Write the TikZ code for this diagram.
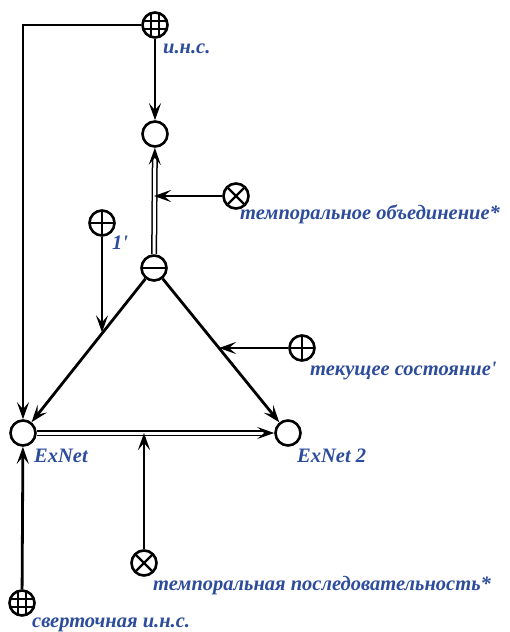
\documentclass[tikz,border=0pt]{standalone}
\usepackage{fontspec}
\setmainfont{Liberation Serif}
\usetikzlibrary{arrows.meta, calc, positioning}
\definecolor{LblBlue}{HTML}{2D4C9C}
\tikzset{
  sym/.style={
    circle, draw, fill=white, line width=2.6pt,
    minimum size=25pt, inner sep=0pt,
  },
  plainc/.style={sym},
  minusc/.style={sym, path picture={
      \draw[line width=2.4pt] (path picture bounding box.west) -- (path picture bounding box.east);}},
  plusc/.style={sym, path picture={
      \draw[line width=2.4pt] (path picture bounding box.west) -- (path picture bounding box.east)
        (path picture bounding box.north) -- (path picture bounding box.south);}},
  timesc/.style={sym, path picture={
      \draw[line width=2.4pt] (path picture bounding box.north west) -- (path picture bounding box.south east)
        (path picture bounding box.north east) -- (path picture bounding box.south west);}},
  gridc/.style={sym, path picture={
      \foreach \d in {-4,4}{
        \draw[line width=1.4pt] ([xshift=\d pt]path picture bounding box.north) -- ([xshift=\d pt]path picture bounding box.south);
        \draw[line width=1.4pt] ([yshift=\d pt]path picture bounding box.west) -- ([yshift=\d pt]path picture bounding box.east);}}},
  arr/.style={
    -{Stealth[length=17pt,width=12pt,inset=7pt]},
    line width=2.8pt,
  },
  dbl/.style={
    -{Stealth[length=17pt,width=12pt,inset=7pt]},
    double=white, double distance=3pt, line width=1.5pt,
  },
  lbl/.style={
    font=\fontsize{20.5}{23}\selectfont\bfseries\itshape, text=LblBlue,
    anchor=west, inner sep=0pt,
  },
}

\begin{document}
\begin{tikzpicture}[x=1pt,y=-1pt]
  \useasboundingbox (0,0) rectangle (509,632);
  % circles
  \node[gridc]  (gtop)   at (155,25)  {};
  \node[plainc] (ins)    at (155,134) {};
  \node[minusc] (mns)    at (154,268) {};
  \node[timesc] (tunion) at (236,196) {};
  \node[plusc]  (one)    at (102,223) {};
  \node[plainc] (exnet)  at (23,433)  {};
  \node[plainc] (exnet2) at (288,433) {};
  \node[plusc]  (cur)    at (302,348) {};
  \node[timesc] (tseq)   at (144,563) {};
  \node[gridc]  (gbot)   at (22,603)  {};
  % points on the triangle edges
  \coordinate (eleft)  at ($(mns)!0.39!(exnet)$);
  \coordinate (eright) at ($(mns)!0.485!(exnet2)$);
  % connectors
  \draw[arr] (gtop) -| (exnet);
  \draw[arr] (gtop) -- (ins);
  \draw[dbl] (mns) -- (ins);
  \draw[arr] (tunion) -- (tunion -| mns);
  \draw[arr] (mns) -- (exnet);
  \draw[arr] (mns) -- (exnet2);
  \draw[arr] (one) -- (one |- eleft);
  \draw[arr] (cur) -- (cur -| eright);
  \draw[dbl] (exnet) -- (exnet2);
  \draw[arr] (tseq) -- (tseq |- exnet);
  \draw[arr] (gbot) -- (exnet);
  % labels
  \node[lbl] (lins)   at (163,49)  {и.н.с.};
  \node[lbl] (lunion) at (240,214) {темпоральное объединение*};
  \node[lbl] (lone)   at (112,243) {1\textquotesingle};
  \node[lbl] (lcur)   at (310,371) {текущее состояние\textquotesingle};
  \node[lbl] (lex)    at (34,456)  {ExNet};
  \node[lbl] (lex2)   at (297,456) {ExNet 2};
  \node[lbl] (lseq)   at (153,586) {темпоральная последовательность*};
  \node[lbl] (lconv)  at (32,625)  {сверточная и.н.с.};
\end{tikzpicture}
\end{document}
